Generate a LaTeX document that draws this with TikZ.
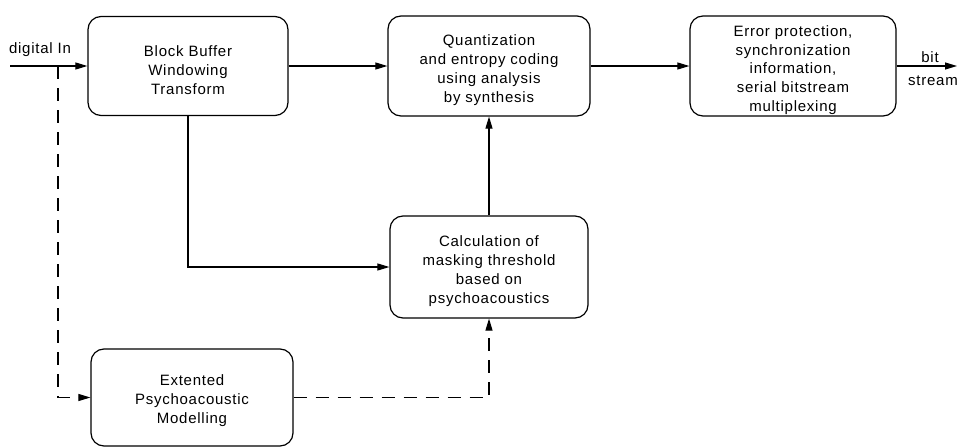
\documentclass[tikz,border=0pt]{standalone}
\usepackage{fontspec}
\setmainfont[LetterSpace=5]{Liberation Sans}
\usetikzlibrary{arrows.meta}
\begin{document}
\begin{tikzpicture}[x=1pt,y=-1pt,
  font=\fontsize{15}{18.8}\selectfont,
  box/.style={draw, rounded corners=13pt, line width=1.2pt, inner sep=0pt},
  lbl/.style={align=center, inner sep=0pt},
  arr/.style={-{Triangle[length=12pt,width=7pt]}, line width=1.1pt},
  dsh/.style={dash pattern=on 13pt off 9pt}]
\useasboundingbox (0,0) rectangle (959,447);
% boxes
\node[box, minimum width=200pt, minimum height=99pt] (bb) at (188,66) {};
\node[box, minimum width=202pt, minimum height=100pt] (q) at (489,66) {};
\node[box, minimum width=206pt, minimum height=100pt] (err) at (793,66) {};
\node[box, minimum width=198pt, minimum height=102pt] (calc) at (489,267) {};
\node[box, minimum width=202pt, minimum height=97pt] (ext) at (192,397.5) {};
% texts
\node[lbl] (bbt) at ([yshift=-4pt]bb.center) {Block Buffer\\Windowing\\Transform};
\node[lbl] (qt) at ([yshift=-4pt]q.center) {Quantization\\and entropy coding\\using analysis\\by synthesis};
\node[lbl] (errt) at ([yshift=-4pt]err.center) {Error protection,\\synchronization\\information,\\serial bitstream\\multiplexing};
\node[lbl] (calct) at ([yshift=-4pt]calc.center) {Calculation of\\masking threshold\\based on\\psychoacoustics};
\node[lbl] (extt) at ([yshift=-3pt]ext.center) {Extented\\Psychoacoustic\\Modelling};
\node[lbl] (din) at (40,50) {digital In};
\node[lbl] (bit) at (930,57) {bit};
\node[lbl] (strm) at (933,81) {stream};
% connector ends
\coordinate (inS) at (10,66);
\coordinate (split) at (58,66);
\coordinate (outE) at (957,66);
% connectors
\draw[arr] (inS) -- (bb.west |- inS);
\draw[arr] (bb.east) -- (q.west);
\draw[arr] (q.east) -- (err.west);
\draw[arr] (err.east) -- (outE);
\draw[arr] (bb.south) |- (calc.west);
\draw[arr] (calc.north) -- (q.south);
\draw[arr, dsh] (split) |- (ext.west);
\draw[arr, dsh] (ext.east) -| (calc.south);
\end{tikzpicture}
\end{document}
